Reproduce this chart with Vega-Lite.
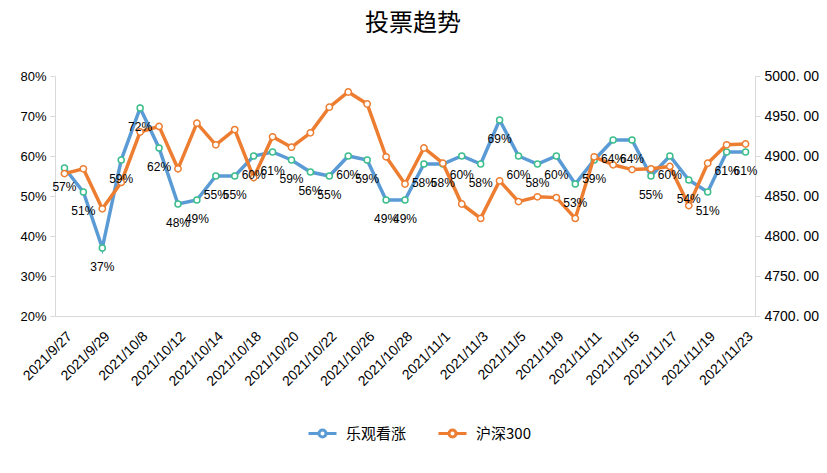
{
  "$schema": "https://vega.github.io/schema/vega-lite/v6.json",
  "width": 700,
  "height": 240,
  "autosize": "none",
  "padding": {"left": 55, "top": 76, "right": 72, "bottom": 157},
  "background": "white",
  "title": {"text": "投票趋势", "fontSize": 24, "font": "Noto Sans CJK SC", "fontWeight": "normal", "color": "#000000", "offset": 33, "dx": 8},
  "config": {
    "view": {"stroke": null},
    "legend": {
      "orient": "none", "legendX": 252, "legendY": 342, "direction": "horizontal", "title": null,
      "symbolType": "M-1,0L-0.25,0M0.25,0L1,0M0.25,0A0.25,0.25,0,1,1,-0.25,0A0.25,0.25,0,1,1,0.25,0Z",
      "symbolSize": 784, "symbolStrokeWidth": 3, "symbolFillColor": "white",
      "labelFontSize": 15, "labelFont": "Noto Sans CJK SC", "labelColor": "#000000", "columnPadding": 25, "labelOffset": 8
    }
  },
  "data": {"values": [
    {"date": "2021/9/27", "bull": 0.57, "hs300": 4878},
    {"date": "2021/9/28", "bull": 0.51, "hs300": 4884},
    {"date": "2021/9/29", "bull": 0.37, "hs300": 4834},
    {"date": "2021/9/30", "bull": 0.59, "hs300": 4867},
    {"date": "2021/10/8", "bull": 0.72, "hs300": 4930},
    {"date": "2021/10/11", "bull": 0.62, "hs300": 4937},
    {"date": "2021/10/12", "bull": 0.48, "hs300": 4884},
    {"date": "2021/10/13", "bull": 0.49, "hs300": 4941},
    {"date": "2021/10/14", "bull": 0.55, "hs300": 4914},
    {"date": "2021/10/15", "bull": 0.55, "hs300": 4933},
    {"date": "2021/10/18", "bull": 0.60, "hs300": 4873},
    {"date": "2021/10/19", "bull": 0.61, "hs300": 4924},
    {"date": "2021/10/20", "bull": 0.59, "hs300": 4911},
    {"date": "2021/10/21", "bull": 0.56, "hs300": 4929},
    {"date": "2021/10/22", "bull": 0.55, "hs300": 4961},
    {"date": "2021/10/25", "bull": 0.60, "hs300": 4980},
    {"date": "2021/10/26", "bull": 0.59, "hs300": 4965},
    {"date": "2021/10/27", "bull": 0.49, "hs300": 4899},
    {"date": "2021/10/28", "bull": 0.49, "hs300": 4865},
    {"date": "2021/10/29", "bull": 0.58, "hs300": 4910},
    {"date": "2021/11/1", "bull": 0.58, "hs300": 4891},
    {"date": "2021/11/2", "bull": 0.60, "hs300": 4840},
    {"date": "2021/11/3", "bull": 0.58, "hs300": 4822},
    {"date": "2021/11/4", "bull": 0.69, "hs300": 4869},
    {"date": "2021/11/5", "bull": 0.60, "hs300": 4843},
    {"date": "2021/11/8", "bull": 0.58, "hs300": 4849},
    {"date": "2021/11/9", "bull": 0.60, "hs300": 4848},
    {"date": "2021/11/10", "bull": 0.53, "hs300": 4822},
    {"date": "2021/11/11", "bull": 0.59, "hs300": 4899},
    {"date": "2021/11/12", "bull": 0.64, "hs300": 4889},
    {"date": "2021/11/15", "bull": 0.64, "hs300": 4883},
    {"date": "2021/11/16", "bull": 0.55, "hs300": 4884},
    {"date": "2021/11/17", "bull": 0.60, "hs300": 4887},
    {"date": "2021/11/18", "bull": 0.54, "hs300": 4838},
    {"date": "2021/11/19", "bull": 0.51, "hs300": 4891},
    {"date": "2021/11/22", "bull": 0.61, "hs300": 4914},
    {"date": "2021/11/23", "bull": 0.61, "hs300": 4915}
  ]},
  "encoding": {
    "x": {
      "field": "date", "type": "ordinal", "sort": null,
      "scale": {"type": "point", "padding": 0.5},
      "axis": {
        "title": null, "labelAngle": -45, "labelFontSize": 14, "labelFont": "Liberation Sans", "labelColor": "#000000",
        "domainColor": "#D9D9D9", "ticks": false, "labelPadding": 13,
        "values": ["2021/9/27", "2021/9/29", "2021/10/8", "2021/10/12", "2021/10/14", "2021/10/18", "2021/10/20", "2021/10/22", "2021/10/26", "2021/10/28", "2021/11/1", "2021/11/3", "2021/11/5", "2021/11/9", "2021/11/11", "2021/11/15", "2021/11/17", "2021/11/19", "2021/11/23"]
      }
    }
  },
  "layer": [
    {
      "mark": {"type": "line", "strokeWidth": 3.5},
      "encoding": {
        "y": {"field": "bull", "type": "quantitative", "scale": {"domain": [0.2, 0.8], "nice": false, "zero": false},
          "axis": {"orient": "left", "title": null, "values": [0.2, 0.3, 0.4, 0.5, 0.6, 0.7, 0.8], "format": ".0%", "grid": false,
            "labelFontSize": 13, "labelFont": "Liberation Sans", "labelColor": "#000000", "domainColor": "#D9D9D9", "tickColor": "#D9D9D9", "tickSize": 5, "labelPadding": 4}},
        "color": {"datum": "乐观看涨", "scale": {"domain": ["乐观看涨", "沪深300"], "range": ["#5B9BD5", "#ED7D31"]}}
      }
    },
    {
      "mark": {"type": "point", "shape": "circle", "filled": true, "fill": "white", "stroke": "#3DBE8C", "strokeWidth": 1.5, "size": 36, "opacity": 1},
      "encoding": {
        "y": {"field": "bull", "type": "quantitative", "scale": {"domain": [0.2, 0.8], "nice": false, "zero": false}, "axis": null}
      }
    },
    {
      "mark": {"type": "line", "strokeWidth": 3.5},
      "encoding": {
        "y": {"field": "hs300", "type": "quantitative", "scale": {"domain": [4700, 5000], "nice": false, "zero": false},
          "axis": {"orient": "right", "title": null, "values": [4700, 4750, 4800, 4850, 4900, 4950, 5000],
            "labelExpr": "replace(format(datum.value, '.2f'), '.', '. ')", "grid": false,
            "labelFontSize": 14, "labelFont": "Liberation Sans", "labelColor": "#000000", "domainColor": "#D9D9D9", "tickColor": "#D9D9D9", "tickSize": 5, "labelPadding": 4}},
        "color": {"datum": "沪深300"}
      }
    },
    {
      "mark": {"type": "point", "shape": "circle", "filled": true, "fill": "white", "stroke": "#ED7D31", "strokeWidth": 1.5, "size": 40, "opacity": 1},
      "encoding": {
        "y": {"field": "hs300", "type": "quantitative", "scale": {"domain": [4700, 5000], "nice": false, "zero": false}, "axis": null}
      }
    },
    {
      "mark": {"type": "text", "fontSize": 12, "font": "Liberation Sans", "color": "#000000", "dy": 19, "baseline": "middle"},
      "encoding": {
        "y": {"field": "bull", "type": "quantitative", "scale": {"domain": [0.2, 0.8], "nice": false, "zero": false}, "axis": null},
        "text": {"field": "bull", "type": "quantitative", "format": ".0%"}
      }
    }
  ],
  "resolve": {"scale": {"y": "independent"}}
}
